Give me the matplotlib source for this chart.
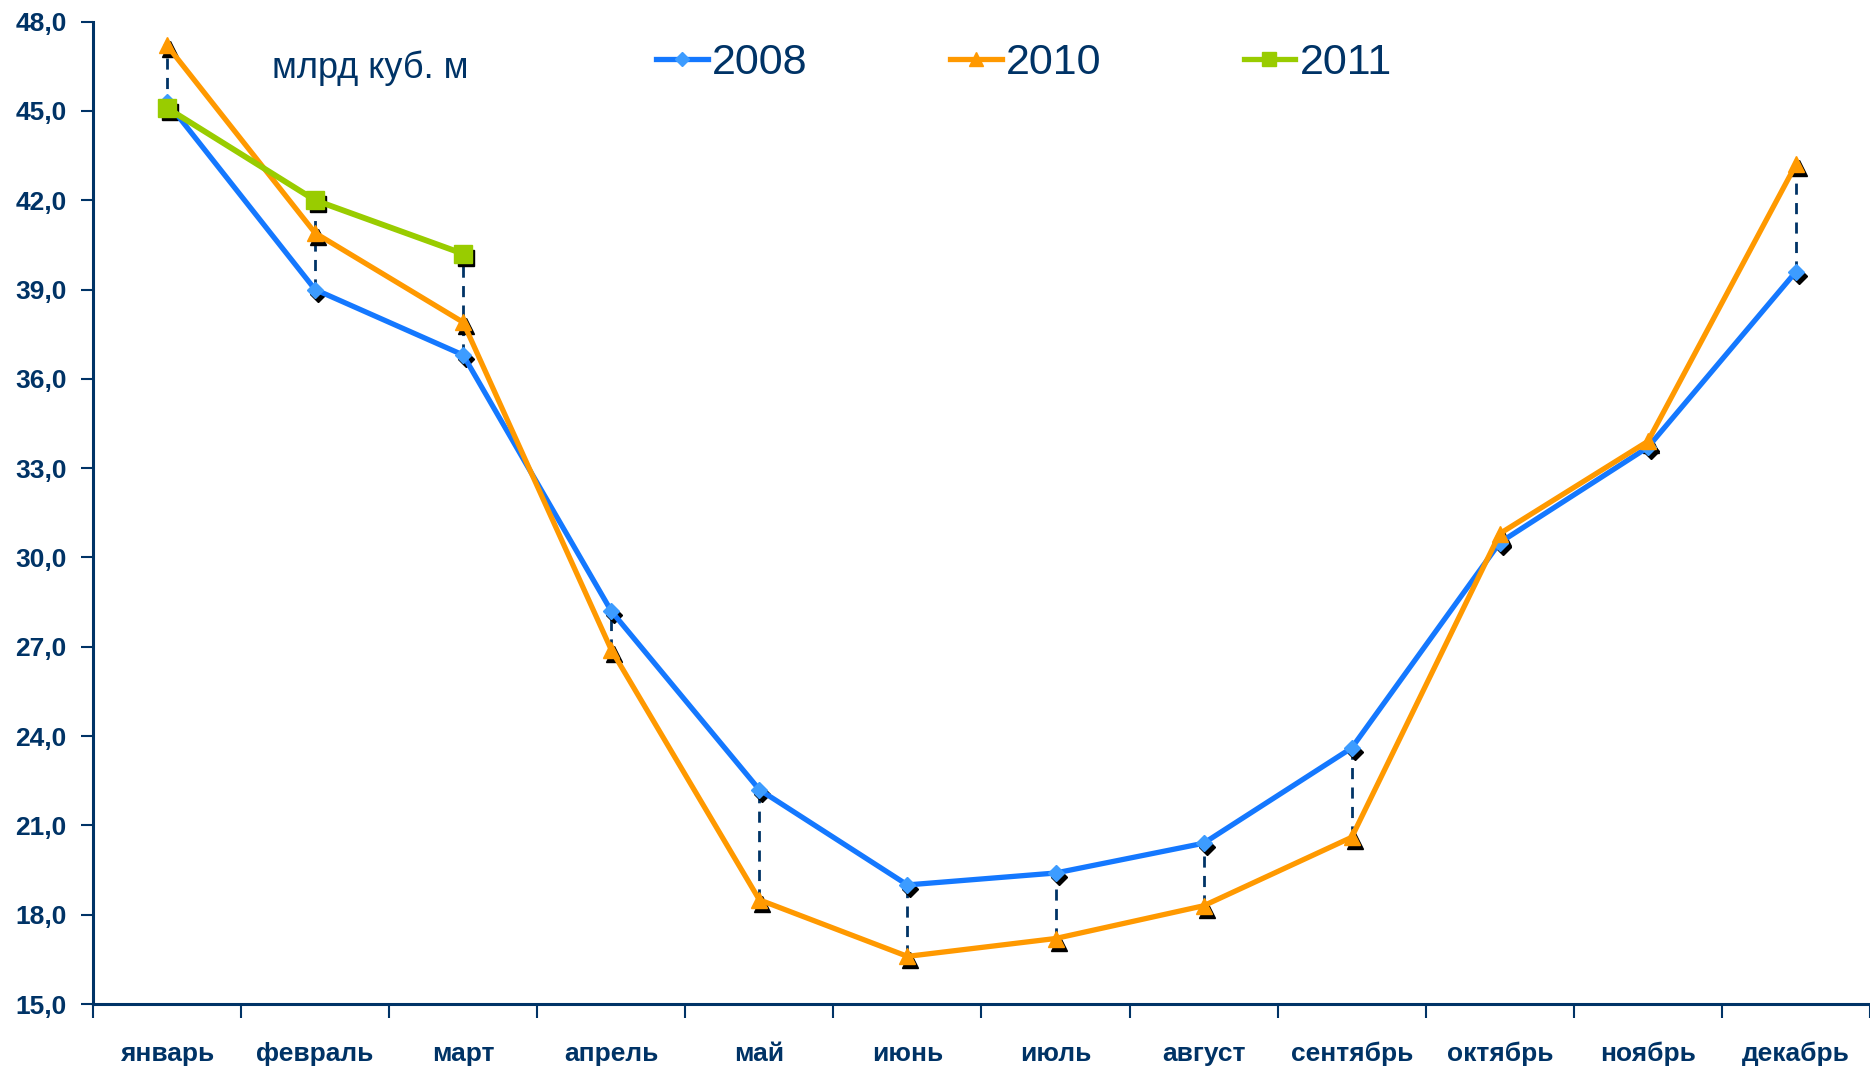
import numpy as np
import matplotlib
matplotlib.use("Agg")
import matplotlib.pyplot as plt
from matplotlib.transforms import offset_copy
from matplotlib.lines import Line2D

plt.rcParams['font.family'] = ['Liberation Sans Narrow', 'Liberation Sans', 'DejaVu Sans']

# data
months = ["январь", "февраль", "март", "апрель", "май", "июнь",
          "июль", "август", "сентябрь", "октябрь", "ноябрь", "декабрь"]
y2008 = [45.3, 39.0, 36.8, 28.2, 22.2, 19.0, 19.4, 20.4, 23.6, 30.5, 33.7, 39.6]
y2010 = [47.2, 40.9, 37.9, 26.9, 18.5, 16.6, 17.2, 18.3, 20.6, 30.8, 33.9, 43.2]
y2011 = [45.1, 42.0, 40.2]
yticks = [15, 18, 21, 24, 27, 30, 33, 36, 39, 42, 45, 48]
unit_label = "млрд куб. м"

NAVY = "#003366"
BLUE = "#1478FF"
BLUE_M = "#3D9CFF"
ORANGE = "#FF9900"
GREEN = "#99CC00"

fig = plt.figure(figsize=(18.7, 10.69), dpi=100)
ax = fig.add_axes([0.0497, 0.0608, 0.9503, 0.919])

x = np.arange(len(months))
x11 = np.arange(len(y2011))

# high-low dashed lines between the series at each month
allv = np.full((3, len(months)), np.nan)
allv[0] = y2008
allv[1] = y2010
allv[2, :len(y2011)] = y2011
hi = np.nanmax(allv, axis=0)
lo = np.nanmin(allv, axis=0)
ax.vlines(x, lo, hi, colors=NAVY, linestyles=(0, (4, 3)), linewidth=2, zorder=1)

# shadow markers
shadow = offset_copy(ax.transData, fig=fig, x=3, y=-4, units='dots')
ax.plot(x, y2008, linestyle='none', marker='D', ms=8, color='black', transform=shadow, zorder=2)
ax.plot(x, y2010, linestyle='none', marker='^', ms=12, color='black', transform=shadow, zorder=2)
ax.plot(x11, y2011, linestyle='none', marker='s', ms=12, color='black', transform=shadow, zorder=2)

ax.plot(x, y2008, color=BLUE, lw=3.8, marker='D', ms=8, mfc=BLUE_M, mec=BLUE_M, zorder=3)
ax.plot(x, y2010, color=ORANGE, lw=3.8, marker='^', ms=12, mfc=ORANGE, mec=ORANGE, zorder=3)
ax.plot(x11, y2011, color=GREEN, lw=4.2, marker='s', ms=13, mfc=GREEN, mec=GREEN, zorder=4)

ax.set_xlim(-0.5, len(months) - 0.5)
ax.set_ylim(15, 48)
ax.set_yticks(yticks)
ax.set_yticklabels([f"{v:.1f}".replace(".", ",") for v in yticks])
ax.set_xticks(x)
ax.set_xticklabels(months)
ax.set_xticks(np.arange(len(months) + 1) - 0.5, minor=True)

for s in ['top', 'right']:
    ax.spines[s].set_visible(False)
for s in ['left', 'bottom']:
    ax.spines[s].set_color(NAVY)
    ax.spines[s].set_linewidth(2.2)

ax.tick_params(axis='x', which='major', length=0, pad=27, labelsize=19, labelcolor=NAVY)
ax.tick_params(axis='x', which='minor', length=10, width=1.5, color=NAVY, direction='out')
ax.tick_params(axis='y', length=9, width=1.5, color=NAVY, pad=10, labelsize=19, labelcolor=NAVY)
for lab in ax.get_xticklabels() + ax.get_yticklabels():
    lab.set_fontweight('bold')

ax.text(0.1007, 0.953, unit_label, transform=ax.transAxes, fontsize=26,
        color=NAVY, ha='left', va='center')

handles = [
    Line2D([], [], color=BLUE, lw=3.8, marker='D', ms=7, mfc=BLUE_M, mec=BLUE_M),
    Line2D([], [], color=ORANGE, lw=3.8, marker='^', ms=10, mfc=ORANGE, mec=ORANGE),
    Line2D([], [], color=GREEN, lw=3.8, marker='s', ms=10, mfc=GREEN, mec=GREEN),
]
leg = ax.legend(handles, ["2008", "2010", "2011"], ncol=3, loc='center',
                bbox_to_anchor=(0.524, 0.958), frameon=False, fontsize=31,
                handlelength=1.2, handletextpad=0.1, columnspacing=3.3,
                labelcolor=NAVY)

fig.savefig("out.png", dpi=100)
